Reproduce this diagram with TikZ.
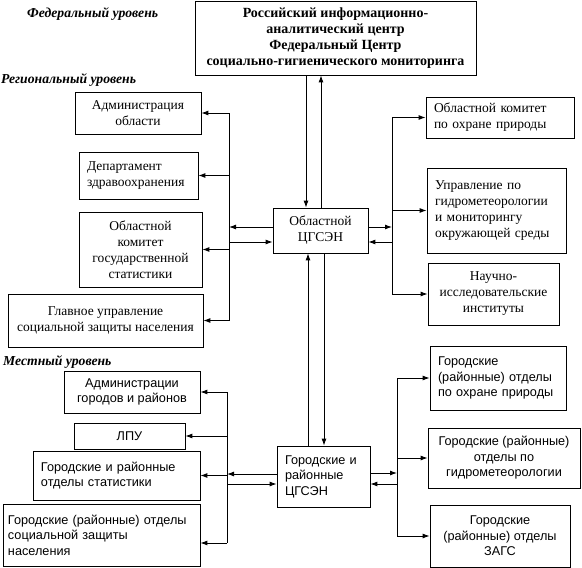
\documentclass[tikz,border=0pt]{standalone}
\usepackage{fontspec}
\setmainfont{Liberation Serif}
\newfontfamily\arialf{Liberation Sans}
\usetikzlibrary{arrows.meta}

\begin{document}
\begin{tikzpicture}[x=1pt, y=-1pt,
    box/.style={draw, line width=0.8pt, inner xsep=8pt, inner ysep=0pt, align=center, font=\fontsize{13.5}{16}\selectfont},
    lbox/.style={box, align=left},
    sbox/.style={box, font=\arialf\fontsize{12.7}{15.5}\selectfont},
    slbox/.style={sbox, align=left},
    lvl/.style={anchor=west, inner sep=0pt, font=\bfseries\itshape\fontsize{13.7}{15}\selectfont},
    arr/.style={line width=0.9pt, -{Latex[length=7pt, width=5pt]}},
    bus/.style={line width=0.9pt}]
    \useasboundingbox (0,0) rectangle (582,568);
    \node[lvl] (fedl) at (27,14) {Федеральный уровень};
    \node[lvl] (regl) at (1,80) {Региональный уровень};
    \node[lvl] (mestl) at (3,362) {Местный уровень};
    \node[box, font=\bfseries\fontsize{14}{16}\selectfont, minimum width=281pt, minimum height=74pt] (fed) at (335.5,38) {Российский информационно-\\аналитический центр\\Федеральный Центр\\социально-гигиенического мониторинга};
    \node[box, minimum width=126pt, minimum height=42pt] (adm) at (138,113) {Администрация\\области};
    \node[lbox, text width=103pt, minimum height=47pt] (dep) at (138.5,175.5) {Департамент\\здравоохранения};
    \node[box, minimum width=123pt, minimum height=75pt] (stat) at (140.5,249.5) {Областной\\комитет\\государственной\\статистики};
    \node[box, minimum width=195pt, minimum height=53pt] (soc) at (105.5,320.5) {Главное управление\\социальной защиты населения};
    \node[box, minimum width=95pt, minimum height=45pt] (obl) at (320.5,230.5) {Областной\\ЦГСЭН};
    \node[lbox, text width=132pt, minimum height=41pt] (prir) at (500,117.5) {Областной комитет\\по охране природы};
    \node[lbox, text width=123pt, minimum height=85pt] (gidro) at (496.5,210.5) {Управление по\\гидрометеорологии\\и мониторингу\\окружающей среды};
    \node[box, minimum width=131pt, minimum height=62pt] (nii) at (493.5,294) {Научно-\\исследовательские\\институты};
    \node[sbox, minimum width=136pt, minimum height=42pt] (admg) at (132,392) {Администрации\\городов и районов};
    \node[sbox, minimum width=111pt, minimum height=26pt] (lpu) at (129.5,436) {ЛПУ};
    \node[slbox, text width=151pt, minimum height=49pt] (ostat) at (116.5,475.5) {Городские и районные\\отделы статистики};
    \node[slbox, inner xsep=5pt, text width=187pt, minimum height=62pt] (osoc) at (101.5,535) {Городские (районные) отделы\\социальной защиты\\населения};
    \node[slbox, text width=77pt, minimum height=61pt] (mest) at (323.5,476.5) {Городские и\\районные\\ЦГСЭН};
    \node[slbox, text width=120pt, minimum height=64pt] (gprir) at (498,378) {Городские\\(районные) отделы\\по охране природы};
    \node[sbox, minimum width=152pt, minimum height=60pt] (ggidro) at (504,458) {Городские (районные)\\отделы по\\гидрометеорологии};
    \node[sbox, minimum width=140pt, minimum height=62pt] (zags) at (500,536) {Городские\\(районные) отделы\\ЗАГС};
    \coordinate (rl) at (229,0); \coordinate (rr) at (392,0); \coordinate (ml) at (227,0); \coordinate (mr) at (397,0);
    \draw[arr] ([xshift=-14.5pt]obl.north |- fed.south) -- ([xshift=-14.5pt]obl.north);
    \draw[arr] ([xshift=0.5pt]obl.north) -- ([xshift=0.5pt]obl.north |- fed.south);
    \draw[arr] ([xshift=-15.5pt]mest.north) -- ([xshift=-15.5pt]mest.north |- obl.south);
    \draw[arr] ([xshift=0.5pt]mest.north |- obl.south) -- ([xshift=0.5pt]mest.north);
    % regional level
    \draw[bus] (adm.east -| rl) -- (soc.east -| rl) (prir.west -| rr) -- (nii.west -| rr);
    \foreach \n in {adm,dep,stat,soc} \draw[arr] (\n.east -| rl) -- (\n.east);
    \foreach \n in {prir,gidro,nii} \draw[arr] (\n.west -| rr) -- (\n.west);
    \draw[arr] ([yshift=3.5pt]obl.west) -- ([yshift=3.5pt]obl.west -| rl);
    \draw[arr] ([yshift=-11.5pt]obl.west -| rl) -- ([yshift=-11.5pt]obl.west);
    \draw[arr] ([yshift=3.5pt]obl.east) -- ([yshift=3.5pt]obl.east -| rr);
    \draw[arr] ([yshift=-11.5pt]obl.east -| rr) -- ([yshift=-11.5pt]obl.east);
    % local level
    \draw[bus] (admg.east -| ml) -- ([yshift=-8pt]osoc.east -| ml) (gprir.west -| mr) -- (zags.west -| mr);
    \foreach \n in {admg,lpu,ostat} \draw[arr] (\n.east -| ml) -- (\n.east);
    \draw[arr] ([yshift=-8pt]osoc.east -| ml) -- ([yshift=-8pt]osoc.east);
    \foreach \n in {gprir,ggidro,zags} \draw[arr] (\n.west -| mr) -- (\n.west);
    \draw[arr] ([yshift=2.5pt]mest.west) -- ([yshift=2.5pt]mest.west -| ml);
    \draw[arr] ([yshift=-7.5pt]mest.west -| ml) -- ([yshift=-7.5pt]mest.west);
    \draw[arr] ([yshift=3.5pt]mest.east) -- ([yshift=3.5pt]mest.east -| mr);
    \draw[arr] ([yshift=-7.5pt]mest.east -| mr) -- ([yshift=-7.5pt]mest.east);
\end{tikzpicture}
\end{document}
